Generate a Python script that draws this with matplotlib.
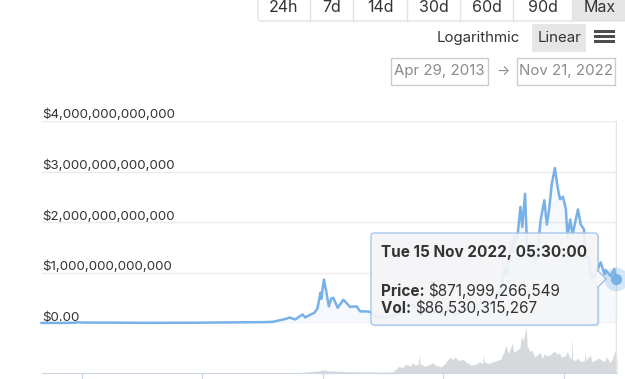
import matplotlib
matplotlib.use('Agg')
import matplotlib.pyplot as plt
from matplotlib.patches import Rectangle, FancyBboxPatch, Polygon
import pandas as pd

plt.rcParams['font.family'] = ['Inter', 'DejaVu Sans']

W, H = 625, 379

# ── DATA ─────────────────────────────────────────────────────────────────────
# total market cap, billions USD
PRICE_DATES = [
    '2013-04-29', '2013-10-01', '2013-11-15', '2013-12-04', '2014-01-01', '2014-02-15',
    '2014-06-01', '2014-10-01', '2015-01-15', '2015-06-01', '2015-12-01', '2016-06-15',
    '2016-12-31', '2017-03-01', '2017-05-25', '2017-06-12', '2017-07-16', '2017-08-31',
    '2017-09-15', '2017-10-20', '2017-11-10', '2017-11-29', '2017-12-17', '2017-12-22',
    '2018-01-07', '2018-01-20', '2018-02-06', '2018-02-20', '2018-03-05', '2018-04-01',
    '2018-05-05', '2018-06-15', '2018-07-25', '2018-08-15', '2018-09-20', '2018-10-15',
    '2018-11-25', '2018-12-15', '2019-02-01', '2019-04-05', '2019-05-15', '2019-06-26',
    '2019-07-15', '2019-09-01', '2019-09-25', '2019-10-27', '2019-12-18', '2020-02-13',
    '2020-03-13', '2020-04-30', '2020-06-01', '2020-08-15', '2020-09-10', '2020-10-31',
    '2020-11-25', '2020-12-17', '2021-01-08', '2021-01-22', '2021-02-21', '2021-02-28',
    '2021-03-13', '2021-03-25', '2021-04-14', '2021-04-25', '2021-05-12', '2021-05-23',
    '2021-06-22', '2021-07-20', '2021-08-15', '2021-09-06', '2021-09-21', '2021-10-05',
    '2021-10-21', '2021-11-09', '2021-11-25', '2021-12-10', '2021-12-28', '2022-01-15',
    '2022-01-24', '2022-02-10', '2022-02-24', '2022-03-29', '2022-04-15', '2022-05-05',
    '2022-05-12', '2022-06-05', '2022-06-18', '2022-07-10', '2022-08-14', '2022-09-07',
    '2022-09-13', '2022-10-13', '2022-11-05', '2022-11-10', '2022-11-15', '2022-11-21',
]
PRICE_B = [
    1.6, 2.0, 6, 14, 10, 8,
    8, 5, 3, 4, 6, 12,
    17, 22, 85, 110, 70, 170,
    110, 170, 200, 290, 600, 480,
    860, 650, 330, 480, 500, 300,
    460, 320, 330, 230, 230, 220,
    120, 110, 115, 180, 260, 370,
    300, 270, 220, 250, 180, 290,
    150, 250, 280, 390, 340, 400,
    560, 680, 1100, 950, 1650, 1400,
    1750, 1650, 2300, 1900, 2560, 1600,
    1300, 1250, 2050, 2430, 1950, 2250,
    2750, 3070, 2700, 2450, 2500, 2250,
    1700, 2050, 1750, 2250, 1950, 1850,
    1300, 1300, 880, 950, 1200, 960,
    1050, 930, 1070, 860, 872, 810,
]

# 24h volume, billions USD
VOL_DATES = [
    '2013-04-29', '2013-11-15', '2013-12-05', '2014-06-01', '2015-06-01', '2016-06-01',
    '2017-01-01', '2017-06-01', '2017-09-01', '2017-12-10', '2018-01-07', '2018-02-01',
    '2018-06-01', '2018-12-01', '2019-01-15', '2019-03-01', '2019-03-15', '2019-04-05',
    '2019-05-01', '2019-05-20', '2019-06-15', '2019-06-28', '2019-07-15', '2019-08-01',
    '2019-08-10', '2019-08-14', '2019-09-15', '2019-10-10', '2019-10-28', '2019-11-20',
    '2019-12-20', '2020-01-10', '2020-01-25', '2020-02-15', '2020-03-01', '2020-03-13',
    '2020-04-01', '2020-05-01', '2020-05-25', '2020-06-20', '2020-07-15', '2020-08-10',
    '2020-08-25', '2020-09-01', '2020-09-05', '2020-10-01', '2020-10-25', '2020-11-20',
    '2020-12-15', '2021-01-05', '2021-01-15', '2021-02-01', '2021-02-22', '2021-03-05',
    '2021-03-20', '2021-04-10', '2021-04-20', '2021-05-01', '2021-05-12', '2021-05-19',
    '2021-05-25', '2021-06-10', '2021-06-22', '2021-07-10', '2021-07-25', '2021-08-10',
    '2021-08-25', '2021-09-07', '2021-09-20', '2021-10-10', '2021-10-25', '2021-11-10',
    '2021-11-25', '2021-12-04', '2021-12-20', '2022-01-10', '2022-01-24', '2022-02-05',
    '2022-02-16', '2022-02-20', '2022-02-24', '2022-03-10', '2022-03-28', '2022-04-15',
    '2022-05-06', '2022-05-12', '2022-05-18', '2022-06-13', '2022-06-20', '2022-07-10',
    '2022-07-28', '2022-08-15', '2022-09-05', '2022-09-20', '2022-10-10', '2022-10-25',
    '2022-11-09', '2022-11-15', '2022-11-21',
]
VOL_B = [
    0.1, 1, 2, 0.5, 0.3, 0.5,
    0.5, 2, 3, 10, 14, 10,
    6, 4, 4, 5, 14, 28,
    25, 38, 30, 45, 35, 38,
    80, 40, 30, 38, 45, 32,
    28, 40, 55, 70, 58, 72,
    55, 60, 45, 35, 38, 50,
    40, 80, 50, 42, 48, 55,
    60, 95, 120, 85, 130, 90,
    100, 110, 165, 140, 180, 200,
    120, 95, 100, 70, 80, 90,
    65, 85, 75, 80, 90, 95,
    80, 90, 70, 75, 95, 70,
    60, 160, 60, 55, 65, 50,
    55, 90, 55, 80, 50, 55,
    65, 60, 50, 70, 45, 65,
    100, 86.5, 60,
]

Y_TICKS = [0, 1e12, 2e12, 3e12, 4e12]
Y_LABELS = ['$0.00', '$1,000,000,000,000', '$2,000,000,000,000',
            '$3,000,000,000,000', '$4,000,000,000,000']
X_TICKS = ['2014-01-01', '2016-01-01', '2018-01-01', '2020-01-01', '2022-01-01']

RANGE_BUTTONS = ['24h', '7d', '14d', '30d', '60d', '90d', 'Max']
SCALE_BUTTONS = ['Logarithmic', 'Linear']
DATE_FROM, DATE_TO = 'Apr 29, 2013', 'Nov 21, 2022'

HOVER_DATE = '2022-11-15 05:30'
HOVER_TITLE = 'Tue 15 Nov 2022, 05:30:00'
HOVER_PRICE = 871999266549
HOVER_VOL = 86530315267

LINE_COLOR = '#78b0e8'
TEXT_COLOR = '#333333'


def fx(x):
    return x / W


def fy(y):
    return 1 - y / H


def prect(x0, y0, x1, y1):
    # figure-fraction rect from pixel box (top-left origin)
    return [fx(x0), fy(y1), fx(x1) - fx(x0), fy(y0) - fy(y1)]


# ── FIGURE ───────────────────────────────────────────────────────────────────
fig = plt.figure(figsize=(W / 100, H / 100), dpi=100)
fig.patch.set_facecolor('white')

x_start, x_end = pd.Timestamp('2013-04-29'), pd.Timestamp('2022-11-21')
pdates = pd.to_datetime(PRICE_DATES)
prices = [v * 1e9 for v in PRICE_B]
vdates = pd.to_datetime(VOL_DATES)
vols = [v * 1e9 for v in VOL_B]
hover_t = pd.Timestamp(HOVER_DATE)

# volume pane
ax_v = fig.add_axes(prect(41.5, 318, 617, 373))
ax_v.fill_between(vdates, vols, 0, color='#d6d9dc', lw=0)
ax_v.set_xlim(x_start, x_end)
ax_v.set_ylim(0, 242e9)
ax_v.patch.set_visible(False)
for s in ['top', 'right', 'left']:
    ax_v.spines[s].set_visible(False)
ax_v.spines['bottom'].set_color('#ccd6eb')
ax_v.set_yticks([])
ax_v.set_xticks(pd.to_datetime(X_TICKS))
ax_v.tick_params(axis='x', length=5, color='#ccd6eb', labelbottom=False)

# price pane
ax = fig.add_axes(prect(41.5, 121, 617, 323))
ax.patch.set_visible(False)
for t in Y_TICKS:
    ax.axhline(t, color='#ebebeb', lw=1, zorder=0)
ax.fill_between(pdates, prices, 0, color=LINE_COLOR, alpha=0.07, lw=0)
ax.plot(pdates, prices, color=LINE_COLOR, lw=1.8, clip_on=False, zorder=3)
ax.axvline(hover_t, color='#e3e3e3', lw=1, ymax=1.0, zorder=1)
ax_v.axvline(hover_t, color='#e3e3e3', lw=1, zorder=1)
ax.set_xlim(x_start, x_end)
ax.set_ylim(0, 4e12)
ax.axis('off')

for t, lab in zip(Y_TICKS, Y_LABELS):
    ax.annotate(lab, xy=(0, t), xycoords=ax.get_yaxis_transform(),
                xytext=(0.5, 1.8), textcoords='offset points',
                ha='left', va='baseline', fontsize=9.6, color=TEXT_COLOR)

# overlay in pixel coordinates for tooltip and controls
ov = fig.add_axes([0, 0, 1, 1], zorder=10)
ov.set_xlim(0, W)
ov.set_ylim(H, 0)
ov.axis('off')
ov.patch.set_visible(False)

# ── TOOLTIP ──────────────────────────────────────────────────────────────────
tx0, ty0, tx1, ty1 = 371, 233, 598, 325
ov.add_patch(FancyBboxPatch((tx0 + 1.5, ty0 + 1.5), tx1 - tx0, ty1 - ty0,
                            boxstyle='round,pad=0,rounding_size=3',
                            fc='#000000', alpha=0.07, ec='none'))
ov.add_patch(FancyBboxPatch((tx0, ty0), tx1 - tx0, ty1 - ty0,
                            boxstyle='round,pad=0,rounding_size=3',
                            fc='#f6f7f9', alpha=0.9, ec='#9cc2e8', lw=1))
ov.add_patch(Polygon([(598, 271), (606, 279), (598, 287)], closed=True,
                     fc='#f6f7f9', ec='#9cc2e8', lw=1))
ov.add_patch(Rectangle((596.5, 272), 2, 14, fc='#f6f7f9', ec='none'))

# hover marker
ov.plot([615.5], [279], 'o', ms=17, color=LINE_COLOR, alpha=0.3, mec='none')
ov.plot([615.5], [279], 'o', ms=7, color=LINE_COLOR, mec=LINE_COLOR)

ov.text(381, 257, HOVER_TITLE, fontsize=11, fontweight='bold',
        color=TEXT_COLOR, va='baseline')
t1 = ov.text(381, 296, 'Price: ', fontsize=11, fontweight='bold',
             color=TEXT_COLOR, va='baseline')
ov.annotate(f'${HOVER_PRICE:,}', xy=(1, 0), xycoords=t1, va='bottom',
            fontsize=11, color=TEXT_COLOR)
t2 = ov.text(381, 313, 'Vol: ', fontsize=11, fontweight='bold',
             color=TEXT_COLOR, va='baseline')
ov.annotate(f'${HOVER_VOL:,}', xy=(1, 0), xycoords=t2, va='bottom',
            fontsize=11, color=TEXT_COLOR)

# ── TOP CONTROLS ─────────────────────────────────────────────────────────────
seps = [258, 310, 353, 407, 460, 513, 572, 626]
ov.add_patch(Rectangle((572, -2), 54, 23, fc='#e6e6e6', ec='none'))
ov.add_patch(FancyBboxPatch((258, -5), 368, 26,
                            boxstyle='round,pad=0,rounding_size=3',
                            fc='none', ec='#e3e3e3', lw=1))
for s in seps[1:-1]:
    ov.plot([s, s], [0, 21], color='#e3e3e3', lw=1)
for lab, a, b in zip(RANGE_BUTTONS, seps[:-1], seps[1:]):
    cx = (a + b) / 2 if lab != 'Max' else 600
    ov.text(cx, 8, lab, fontsize=11.5, color=TEXT_COLOR, ha='center', va='center')

ov.add_patch(Rectangle((532, 24), 54, 28, fc='#e6e6e6', ec='none'))
ov.text(478.5, 38, SCALE_BUTTONS[0], fontsize=10.8, color=TEXT_COLOR,
        ha='center', va='center')
ov.text(559.5, 38, SCALE_BUTTONS[1], fontsize=10.8, color=TEXT_COLOR,
        ha='center', va='center')
for yb in [31.5, 36.5, 41.5]:
    ov.add_patch(Rectangle((594, yb - 1.5), 21, 3, fc='#4d4d4d', ec='none'))

for (a, b), lab in zip([(391, 488), (517, 615)], [DATE_FROM, DATE_TO]):
    ov.add_patch(Rectangle((a, 58), b - a, 27, fc='white', ec='#cccccc', lw=1))
    ov.text((a + b) / 2, 71.5, lab, fontsize=10.8, color='#8a8a8a',
            ha='center', va='center')
ov.text(502.5, 71, '→', fontsize=10, color='#8a8a8a', ha='center', va='center')

fig.savefig('out.png', dpi=100)
